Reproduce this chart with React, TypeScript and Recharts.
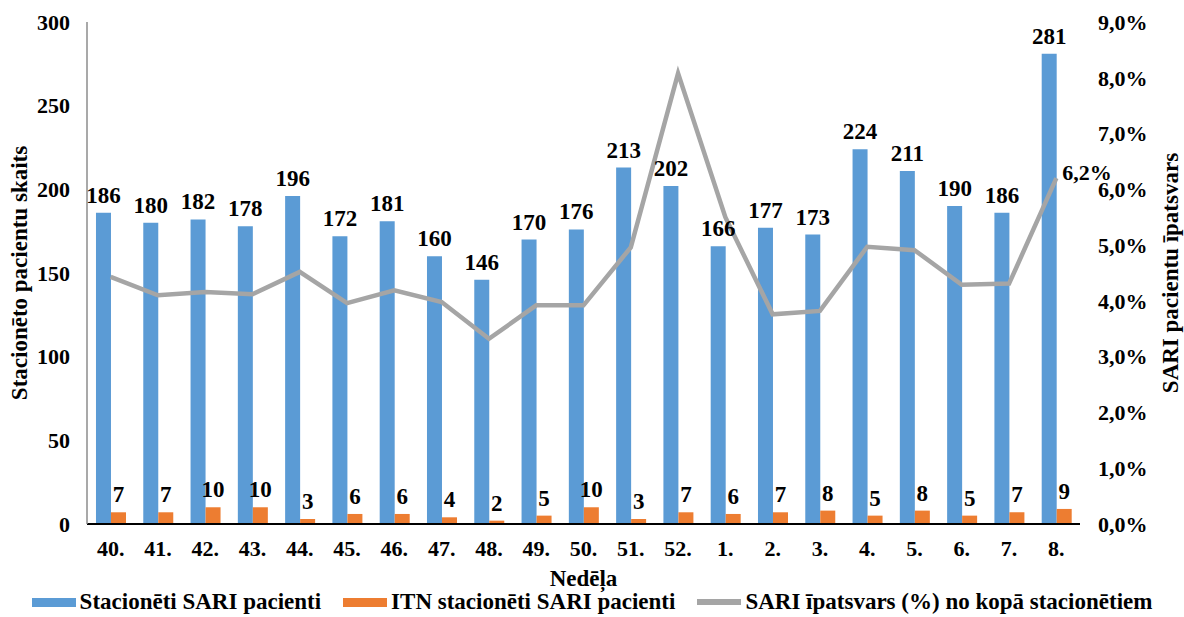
import React from 'react';
import {
  ComposedChart,
  Bar,
  Line,
  XAxis,
  YAxis,
  Legend,
  LabelList,
  Label,
} from 'recharts';

const weeks = ['40.', '41.', '42.', '43.', '44.', '45.', '46.', '47.', '48.', '49.', '50.', '51.', '52.', '1.', '2.', '3.', '4.', '5.', '6.', '7.', '8.'];
const sariPatients = [186, 180, 182, 178, 196, 172, 181, 160, 146, 170, 176, 213, 202, 166, 177, 173, 224, 211, 190, 186, 281];
const itnPatients = [7, 7, 10, 10, 3, 6, 6, 4, 2, 5, 10, 3, 7, 6, 7, 8, 5, 8, 5, 7, 9];
const sariShare = [4.43, 4.1, 4.16, 4.12, 4.52, 3.96, 4.19, 3.98, 3.32, 3.92, 3.92, 4.96, 8.08, 5.5, 3.76, 3.82, 4.97, 4.91, 4.29, 4.31, 6.2];

const leftTicks = [0, 50, 100, 150, 200, 250, 300];
const rightTicks = [0, 1, 2, 3, 4, 5, 6, 7, 8, 9];

const seriesNames = {
  sari: 'Stacionēti SARI pacienti',
  itn: 'ITN stacionēti SARI pacienti',
  share: 'SARI īpatsvars (%) no kopā stacionētiem',
};

const COLORS = { sari: '#5B9BD5', itn: '#ED7D31', share: '#A5A5A5' };
const FONT = '"Liberation Serif", "Times New Roman", serif';

const data = weeks.map((w, i) => ({
  week: w,
  sari: sariPatients[i],
  itn: itnPatients[i],
  share: sariShare[i],
}));

const fmtPct = (v: number) => v.toFixed(1).replace('.', ',') + '%';

const tickStyle = { fontFamily: FONT, fontWeight: 700, fontSize: 22, fill: '#000' };
const textStyle = { fontFamily: FONT, fontWeight: 700, fontSize: 23, fill: '#000' };

const LegendContent = () => {
  const items = [
    { key: 'sari', h: 9 },
    { key: 'itn', h: 9 },
    { key: 'share', h: 6 },
  ];
  return (
    <div
      style={{
        display: 'flex',
        justifyContent: 'center',
        alignItems: 'center',
        height: 30,
        fontFamily: FONT,
        fontWeight: 700,
        fontSize: 23,
        color: '#000',
        whiteSpace: 'nowrap',
      }}
    >
      {items.map((it, idx) => (
        <div key={it.key} style={{ display: 'flex', alignItems: 'center', marginLeft: idx === 0 ? 0 : 22 }}>
          <span
            style={{
              display: 'inline-block',
              width: 44,
              height: it.h,
              background: (COLORS as any)[it.key],
              marginRight: 4,
            }}
          />
          <span>{(seriesNames as any)[it.key]}</span>
        </div>
      ))}
    </div>
  );
};

const LastPointLabel = (props: any) => {
  const { x, y, index, value } = props;
  if (index !== sariShare.length - 1) return null;
  return (
    <text
      x={x + 6}
      y={y - 6}
      dominantBaseline="central"
      textAnchor="start"
      style={{ fontFamily: FONT, fontWeight: 700, fontSize: 22 }}
      fill="#000"
    >
      {fmtPct(value)}
    </text>
  );
};

export default function App() {
  return (
    <div style={{ position: 'absolute', left: 0, top: 0, width: 1184, height: 617, background: '#fff' }}>
      <ComposedChart
        width={1184}
        height={617}
        data={data}
        margin={{ top: 22, right: 0, left: 0, bottom: 0 }}
        barCategoryGap="19%"
        barGap={0}
      >
        <XAxis
          dataKey="week"
          interval={0}
          tickLine={false}
          tickSize={0}
          tickMargin={16}
          axisLine={{ stroke: '#000', strokeWidth: 2 }}
          height={63}
          tick={tickStyle}
        >
          <Label value="Nedēļa" position="insideBottom" offset={1} style={textStyle} />
        </XAxis>
        <YAxis
          yAxisId="left"
          orientation="left"
          domain={[0, 300]}
          ticks={leftTicks}
          width={87}
          tickLine={false}
          tickSize={0}
          tickMargin={17}
          axisLine={{ stroke: '#8c8c8c', strokeWidth: 1.5 }}
          tick={tickStyle}
          interval={0}
        >
          <Label
            value="Stacionēto pacientu skaits"
            angle={-90}
            position="center"
            dx={-25}
            style={{ ...textStyle, textAnchor: 'middle' }}
          />
        </YAxis>
        <YAxis
          yAxisId="right"
          orientation="right"
          domain={[0, 9]}
          ticks={rightTicks}
          width={104}
          tickLine={false}
          tickSize={0}
          tickMargin={18}
          axisLine={false}
          tick={tickStyle}
          tickFormatter={fmtPct}
          interval={0}
        >
          <Label
            value="SARI pacientu īpatsvars"
            angle={-90}
            position="center"
            dx={38}
            style={{ ...textStyle, textAnchor: 'middle' }}
          />
        </YAxis>
        <Legend verticalAlign="bottom" height={30} content={<LegendContent />} />
        <Bar yAxisId="left" dataKey="sari" name={seriesNames.sari} fill={COLORS.sari} isAnimationActive={false}>
          <LabelList dataKey="sari" position="top" offset={10} style={textStyle} />
        </Bar>
        <Bar yAxisId="left" dataKey="itn" name={seriesNames.itn} fill={COLORS.itn} isAnimationActive={false}>
          <LabelList dataKey="itn" position="top" offset={10} style={textStyle} />
        </Bar>
        <Line
          yAxisId="right"
          type="linear"
          dataKey="share"
          name={seriesNames.share}
          stroke={COLORS.share}
          strokeWidth={4.5}
          dot={false}
          activeDot={false}
          isAnimationActive={false}
        >
          <LabelList dataKey="share" content={<LastPointLabel />} />
        </Line>
      </ComposedChart>
    </div>
  );
}
